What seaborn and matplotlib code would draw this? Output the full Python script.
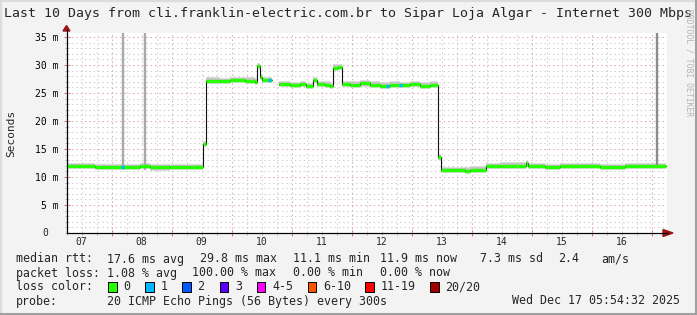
import numpy as np
import pandas as pd
import matplotlib
matplotlib.use("Agg")
import matplotlib.pyplot as plt
import seaborn as sns
from matplotlib.patches import Rectangle, Polygon
from matplotlib.lines import Line2D
from matplotlib.ticker import FixedLocator, MultipleLocator, FuncFormatter

# ---------------- data (hours since 2025-12-07 00:00, median rtt in ms) ----------------
seg1_h = [5.9, 17.3, 35.3, 39.3, 47.3, 55.3, 60.7, 61.7, 67.3, 71.3, 77.3, 81.3, 82.3, 83.5, 84.3, 88.1]
seg1_ms = [11.9, 11.8, 11.9, 11.7, 11.8, 11.8, 15.9, 27.2, 27.1, 27.3, 27.2, 27.0, 29.8, 27.8, 27.3, 27.3]
seg2_h = [90.9, 95.3, 99.3, 101.7, 104.5, 106.1, 109.3, 111.3, 112.5, 114.5, 116.3, 119.3, 123.3,
          127.3, 131.3, 135.3, 139.3, 143.3, 147.3, 151.3, 154.7, 155.7, 165.3, 167.3, 173.9,
          179.3, 189.9, 190.7, 197.3, 203.3, 219.3, 229.3, 245.9]
seg2_ms = [26.6, 26.4, 26.6, 26.2, 27.3, 26.6, 26.5, 26.2, 29.5, 29.6, 26.6, 26.5, 26.7,
           26.5, 26.3, 26.5, 26.4, 26.6, 26.3, 26.5, 13.5, 11.2, 11.1, 11.3, 11.9,
           12.0, 12.5, 11.9, 11.8, 11.9, 11.8, 11.9, 11.9]
# points with 1/20 loss
loss_h = [28.2, 87.1, 134.4, 139.4]
loss_ms = [11.8, 27.3, 26.3, 26.4]
# outlier smoke spikes
spike_h = [28.5, 37.3, 242.1]
spike_lo = [11.5, 11.3, 11.8]
spike_hi = [60.0, 60.0, 60.0]

day_labels = ["07", "08", "09", "10", "11", "12", "13", "14", "15", "16"]
y_major = [5, 10, 15, 20, 25, 30, 35]

title = "Last 10 Days from cli.franklin-electric.com.br to Sipar Loja Algar - Internet 300 Mbps"
row_rtt = ["17.6 ms avg", "29.8 ms max", "11.1 ms min", "11.9 ms now", "7.3 ms sd", "2.4", "am/s"]
row_loss = ["1.08 % avg", "100.00 % max", "0.00 % min", "0.00 % now"]
loss_labels = ["0", "1", "2", "3", "4-5", "6-10", "11-19", "20/20"]
loss_colors = ["#26ff00", "#00b8ff", "#0059ff", "#5e00ff", "#ff00ff", "#ff5500", "#ff0000", "#a10000"]
probe = "20 ICMP Echo Pings (56 Bytes) every 300s"
stamp = "Wed Dec 17 05:54:32 2025"

# ---------------- figure ----------------
sns.set_theme(style="white")
plt.rcParams["font.family"] = ["DejaVu Sans Mono"]

W, H = 697, 315
fig = plt.figure(figsize=(W / 100, H / 100), dpi=100, facecolor="#f3f3f3")
ax = fig.add_axes([66.5 / W, (H - 233) / H, 600 / W, 200.5 / H])
ax.set_facecolor("white")
t0 = 5.909
ax.set_xlim(t0, t0 + 240)
ax.set_ylim(0, 200.5 / 5.6)

def P(x, y):
    return (x / W, 1 - y / H)

# grid
for h in np.arange(6, 246, 6):
    colr = "#e0a8a8" if h % 24 == 0 else "#cfcfcf"
    ax.axvline(h, color=colr, lw=0.75, ls=(0, (1.4, 2.8)), zorder=1)
for v in range(1, 36):
    colr = "#e0a8a8" if v % 5 == 0 else "#cfcfcf"
    ax.axhline(v, color=colr, lw=0.75, ls=(0, (1.4, 2.8)), zorder=1)

# smoke
for hh, mm in [(seg1_h, seg1_ms), (seg2_h, seg2_ms)]:
    a = np.array(mm)
    ax.fill_between(hh, a - 0.55, a + 0.6, step="post", color="#dcdcdc", lw=0, zorder=2)
    ax.fill_between(hh, a - 0.38, a + 0.42, step="post", color="#c6c6c6", lw=0, zorder=2)

ax.vlines(spike_h[:2], spike_lo[:2], spike_hi[:2], color="#a9a9a9", lw=1.7, zorder=2)
ax.vlines(spike_h[2:], spike_lo[2:], spike_hi[2:], color="#8c8c8c", lw=1.7, zorder=2)

# median (black steps) via seaborn
df = pd.DataFrame({
    "hour": seg1_h + seg2_h,
    "ms": seg1_ms + seg2_ms,
    "seg": [1] * len(seg1_h) + [2] * len(seg2_h),
})
sns.lineplot(data=df, x="hour", y="ms", units="seg", estimator=None, drawstyle="steps-post",
             color="#111111", lw=0.8, ax=ax, zorder=3, legend=False)
# loss-coloured median
for hh, mm in [(seg1_h, seg1_ms), (seg2_h, seg2_ms)]:
    ax.hlines(mm[:-1], hh[:-1], hh[1:], color=loss_colors[0], lw=2.4, zorder=4)
ax.hlines(loss_ms, np.array(loss_h) - 0.5, np.array(loss_h) + 0.6, color=loss_colors[1], lw=2.4, zorder=5)

ax.set_xlabel("")
ax.set_ylabel("")

# axes / ticks
for s in ["top", "right"]:
    ax.spines[s].set_visible(False)
for s in ["left", "bottom"]:
    ax.spines[s].set_color("black")
    ax.spines[s].set_linewidth(0.8)
    ax.spines[s].set_zorder(6)

ax.xaxis.set_major_locator(FixedLocator(list(range(24, 246, 24))))
ax.xaxis.set_minor_locator(FixedLocator([h for h in range(6, 246, 6) if h % 24]))
ax.xaxis.set_major_formatter(FuncFormatter(lambda v, p: ""))
ax.tick_params(axis="x", which="major", direction="inout", length=5, width=0.7, color="#d07070", bottom=True)
ax.tick_params(axis="x", which="minor", direction="inout", length=3, width=0.7, color="#b0b0b0", bottom=True)

ax.yaxis.set_major_locator(FixedLocator(y_major))
ax.yaxis.set_minor_locator(MultipleLocator(1))
ax.yaxis.set_major_formatter(FuncFormatter(lambda v, p: f"{int(v)} m"))
ax.tick_params(axis="y", which="major", direction="inout", length=4, width=0.7, color="#d07070",
               left=True, labelsize=7, pad=3.6, labelcolor="black")
ax.tick_params(axis="y", which="minor", direction="inout", length=3, width=0.7, color="#b0b0b0", left=True)
fig.text(*P(48.5, 233), "0", ha="right", va="center", fontsize=7)

xt = ax.get_xaxis_transform()
for i, lab in enumerate(day_labels):
    ax.text(12 + 24 * i, -9 / 200.5, lab, transform=xt, ha="center", va="center", fontsize=7)

# axis extensions and arrows
fig.add_artist(Line2D([P(66.5, 0)[0]] * 2, [P(0, 233)[1], P(0, 30)[1]], color="black", lw=0.8))
fig.add_artist(Line2D([P(66.5, 0)[0], P(668, 0)[0]], [P(0, 233)[1]] * 2, color="black", lw=0.8))
fig.add_artist(Polygon([P(663, 229.5), P(673, 233), P(663, 236.5)], closed=True, color="#9a1515",
                       transform=fig.transFigure))
fig.add_artist(Polygon([P(63, 31), P(66.5, 25.5), P(70, 31)], closed=True, color="#9a1515",
                       transform=fig.transFigure))

# texts
fig.text(*P(4.5, 14), title, ha="left", va="center", fontsize=9.5)
fig.text(*P(11, 133.5), "Seconds", ha="center", va="center", rotation=90, fontsize=8)
fig.text(*P(688.5, 63), "RRDTOOL / TOBI OETIKER", ha="center", va="center", rotation=270,
         fontsize=5.8, color="#b4b4b4")

fs = 8.4
cols_rtt = [107, 200, 293, 379.5, 480, 558, 601]
cols_loss = [107, 192.5, 293, 379.5]
fig.text(*P(16, 259), "median rtt:", ha="left", va="center", fontsize=fs)
for c, t in zip(cols_rtt, row_rtt):
    fig.text(*P(c, 259), t, ha="left", va="center", fontsize=fs)
fig.text(*P(16, 273), "packet loss:", ha="left", va="center", fontsize=fs)
for c, t in zip(cols_loss, row_loss):
    fig.text(*P(c, 273), t, ha="left", va="center", fontsize=fs)
fig.text(*P(16, 287), "loss color:", ha="left", va="center", fontsize=fs)
box_x = [108, 145, 182, 219.5, 256.5, 307.5, 365, 430]
for bx, lab, colr in zip(box_x, loss_labels, loss_colors):
    fig.add_artist(Rectangle(P(bx, 292), 8.5 / W, 10 / H, transform=fig.transFigure,
                             facecolor=colr, edgecolor="black", lw=0.7))
    fig.text(*P(bx + 15.5, 287), lab, ha="left", va="center", fontsize=fs)
fig.text(*P(16, 301), "probe:", ha="left", va="center", fontsize=fs)
fig.text(*P(107, 301), probe, ha="left", va="center", fontsize=fs)
fig.text(*P(680, 301), stamp, ha="right", va="center", fontsize=fs)

# frame
fig.add_artist(Line2D([0, 1], [P(0, 0.8)[1]] * 2, color="#dcdcdc", lw=1.6))
fig.add_artist(Line2D([P(0.8, 0)[0]] * 2, [0, 1], color="#dcdcdc", lw=1.6))
fig.add_artist(Line2D([0, 1], [P(0, 313.8)[1]] * 2, color="#a0a0a0", lw=2.2))
fig.add_artist(Line2D([P(695.8, 0)[0]] * 2, [0, 1], color="#a0a0a0", lw=2.2))

fig.savefig("out.png", dpi=100, facecolor=fig.get_facecolor())
